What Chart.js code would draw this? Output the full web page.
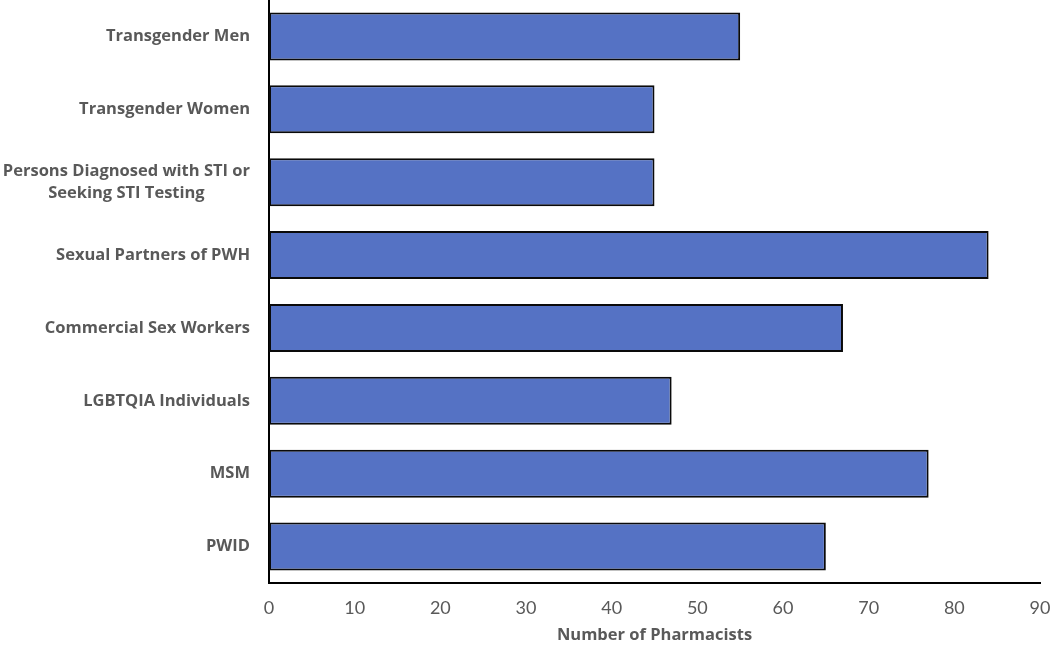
<!DOCTYPE html>
<html>
<head>
<meta charset="utf-8">
<script src="https://cdn.jsdelivr.net/npm/chart.js@4"></script>
<style>
  html, body { margin: 0; padding: 0; background: #fff; }
  #wrap { width: 1050px; height: 645px; }
</style>
</head>
<body>
<div id="wrap"><canvas id="chart" width="1050" height="645"></canvas></div>
<script>
const categories = [
  'Transgender Men',
  'Transgender Women',
  ['Persons Diagnosed with STI or', 'Seeking STI Testing'],
  'Sexual Partners of PWH',
  'Commercial Sex Workers',
  'LGBTQIA Individuals',
  'MSM',
  'PWID'
];
const pharmacists = [55, 45, 45, 84, 67, 47, 77, 65];
const xMin = 0;
const xMax = 90;
const xStep = 10;
const xTitle = 'Number of Pharmacists';

const FONT = 'Lato, "DejaVu Sans", sans-serif';
const BOLD_FONT = '"Open Sans", Lato, sans-serif';
const GREY = '#595959';

// draws the category labels so a two-line label is centred on itself
const categoryLabels = {
  id: 'categoryLabels',
  afterDraw(chart) {
    const ctx = chart.ctx;
    const y = chart.scales.y;
    const rightEdge = y.right - 19;
    const lh = 22;
    ctx.save();
    ctx.font = 'bold 16.5px ' + BOLD_FONT;
    ctx.fillStyle = GREY;
    ctx.textAlign = 'center';
    ctx.textBaseline = 'middle';
    categories.forEach((label, i) => {
      const lines = Array.isArray(label) ? label : [label];
      const maxW = Math.max(...lines.map(l => ctx.measureText(l).width));
      const cx = rightEdge - maxW / 2;
      const cy = y.getPixelForTick(i);
      lines.forEach((l, k) => {
        ctx.fillText(l, cx, cy - (lines.length - 1) * lh / 2 + k * lh);
      });
    });
    ctx.restore();
  }
};

new Chart(document.getElementById('chart').getContext('2d'), {
  type: 'bar',
  data: {
    labels: categories,
    datasets: [{
      data: pharmacists,
      backgroundColor: '#5572C4',
      borderColor: '#0a0a0a',
      borderWidth: 2,
      borderSkipped: false,
      categoryPercentage: 1,
      barPercentage: 0.66
    }]
  },
  options: {
    indexAxis: 'y',
    responsive: false,
    animation: false,
    layout: { padding: { left: 0, right: 0, top: 0, bottom: 0 } },
    plugins: {
      legend: { display: false },
      tooltip: { enabled: false }
    },
    scales: {
      x: {
        min: xMin,
        max: xMax,
        grid: { display: false, drawTicks: false },
        border: { display: true, color: '#000', width: 2 },
        ticks: {
          stepSize: xStep,
          color: GREY,
          padding: 14,
          font: { family: FONT, size: 18 }
        },
        title: {
          display: true,
          text: xTitle,
          color: GREY,
          font: { family: BOLD_FONT, size: 16.5, weight: 'bold' },
          padding: { top: 4, bottom: 0 }
        },
        afterFit(scale) {
          scale.height = 62;
          scale.paddingLeft = 0;
          scale.paddingRight = 10;
        }
      },
      y: {
        grid: { display: false, drawTicks: false },
        border: { display: true, color: '#000', width: 2 },
        ticks: { display: false },
        afterFit(scale) { scale.width = 269; }
      }
    }
  },
  plugins: [categoryLabels]
});
</script>
</body>
</html>
